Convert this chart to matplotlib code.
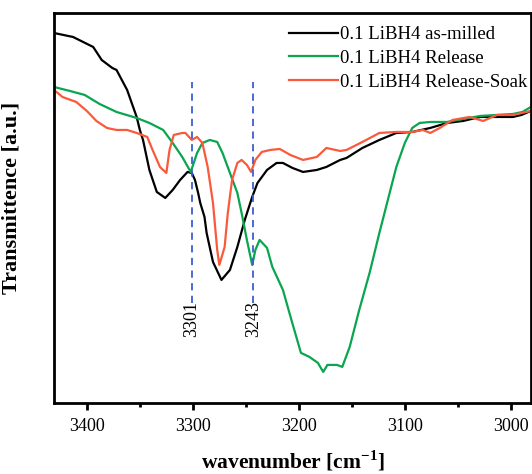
import numpy as np
import matplotlib
matplotlib.use('Agg')
import matplotlib.pyplot as plt

plt.rcParams['font.family'] = ['Liberation Serif', 'DejaVu Serif']
plt.rcParams['mathtext.fontset'] = 'custom'
plt.rcParams['mathtext.rm'] = 'Liberation Serif'
plt.rcParams['mathtext.bf'] = 'Liberation Serif:bold'

# FTIR traces (wavenumber in cm-1, transmittance in a.u.)
wn_milled = [3431, 3413, 3394, 3386, 3376, 3372, 3362, 3353, 3350, 3347, 3341, 3334,
             3326, 3319, 3312, 3305, 3301, 3298, 3295, 3293, 3289, 3287, 3281, 3273,
             3265, 3258, 3251, 3244, 3239, 3230, 3221, 3215, 3206, 3196, 3183, 3174,
             3161, 3155, 3140, 3124, 3108, 3093, 3076, 3060, 3045, 3029, 3013, 2998,
             2990, 2981]
t_milled = [370, 366, 356, 343, 335, 333, 313, 286, 273, 263, 233, 211,
            205, 213, 223, 231, 230, 223, 210, 200, 186, 170, 141, 123,
            133, 156, 183, 206, 220, 233, 240, 240, 235, 231, 233, 236,
            243, 245, 255, 263, 270, 271, 275, 280, 282, 286, 286, 286,
            288, 292]

wn_release = [3431, 3416, 3402, 3388, 3372, 3353, 3341, 3328, 3319, 3310, 3302, 3296,
              3291, 3284, 3277, 3272, 3265, 3258, 3254, 3249, 3244, 3241, 3237, 3230,
              3225, 3215, 3207, 3198, 3190, 3182, 3177, 3173, 3164, 3159, 3152, 3143,
              3133, 3124, 3116, 3108, 3100, 3093, 3086, 3076, 3060, 3045, 3029, 3013,
              2998, 2989, 2981]
t_release = [316, 312, 308, 299, 291, 285, 280, 273, 260, 246, 231, 250,
             260, 263, 261, 250, 230, 210, 190, 163, 138, 153, 163, 155,
             136, 113, 83, 50, 46, 40, 31, 38, 38, 36, 56, 93,
             131, 170, 203, 236, 260, 275, 280, 281, 281, 284, 287, 288,
             289, 291, 296]

wn_soak = [3431, 3423, 3410, 3400, 3391, 3381, 3372, 3362, 3353, 3343, 3338, 3331,
           3325, 3322, 3318, 3310, 3307, 3301, 3296, 3291, 3286, 3281, 3277, 3275,
           3270, 3267, 3263, 3258, 3254, 3249, 3245, 3241, 3235, 3227, 3218, 3208,
           3196, 3183, 3174, 3161, 3155, 3140, 3124, 3108, 3093, 3083, 3076, 3067,
           3055, 3039, 3026, 3013, 2998, 2981]
t_soak = [313, 306, 301, 292, 282, 275, 273, 273, 270, 266, 253, 236,
          230, 253, 268, 270, 270, 263, 266, 260, 236, 200, 153, 138,
          156, 190, 223, 240, 243, 238, 231, 243, 251, 253, 254, 248,
          243, 246, 255, 252, 253, 261, 270, 271, 271, 273, 270, 275,
          283, 286, 282, 288, 288, 292]

peaks = [3301, 3243]
labels = ['0.1 LiBH4 as-milled', '0.1 LiBH4 Release', '0.1 LiBH4 Release-Soak']
colors = ['#000000', '#0aa54f', '#fa5a3c']

fig = plt.figure(figsize=(5.32, 4.74), dpi=100)
ax = fig.add_axes([0.1015, 0.15, 0.8965, 0.8226])

ax.plot(wn_milled, t_milled, color=colors[0], lw=1.6, label=labels[0])
ax.plot(wn_release, t_release, color=colors[1], lw=1.6, label=labels[1])
ax.plot(wn_soak, t_soak, color=colors[2], lw=1.6, label=labels[2])

for p in peaks:
    ax.plot([p, p], [100, 321], color='#3b5fd0', lw=1.3, ls=(0, (4, 3)))
    ax.text(p, 102, str(p), rotation=90, ha='center', va='top', fontsize=13)

ax.set_xlim(3431, 2981)
ax.set_ylim(0, 390)
ax.set_xticks([3400, 3300, 3200, 3100, 3000])
ax.set_xticks([3350, 3250, 3150, 3050], minor=True)
ax.set_yticks([])
ax.tick_params(axis='x', which='major', direction='out', length=5, width=2, labelsize=13, pad=6)
ax.tick_params(axis='x', which='minor', direction='out', length=3, width=2)
for s in ax.spines.values():
    s.set_linewidth(2)

ax.set_xlabel(r'wavenumber [cm$^{\mathbf{-1}}$]', fontsize=15.5, fontweight='bold', labelpad=10)
ax.set_ylabel('Transmittence [a.u.]', fontsize=16, fontweight='bold', labelpad=12)
ax.yaxis.set_label_coords(-0.068, 0.526)

leg = ax.legend(loc='upper right', frameon=False, fontsize=13.5, handlelength=2.6,
                handletextpad=0.1, labelspacing=0.35, borderaxespad=0.3,
                bbox_to_anchor=(1.02, 1.0))

fig.savefig('out.png', dpi=100)
